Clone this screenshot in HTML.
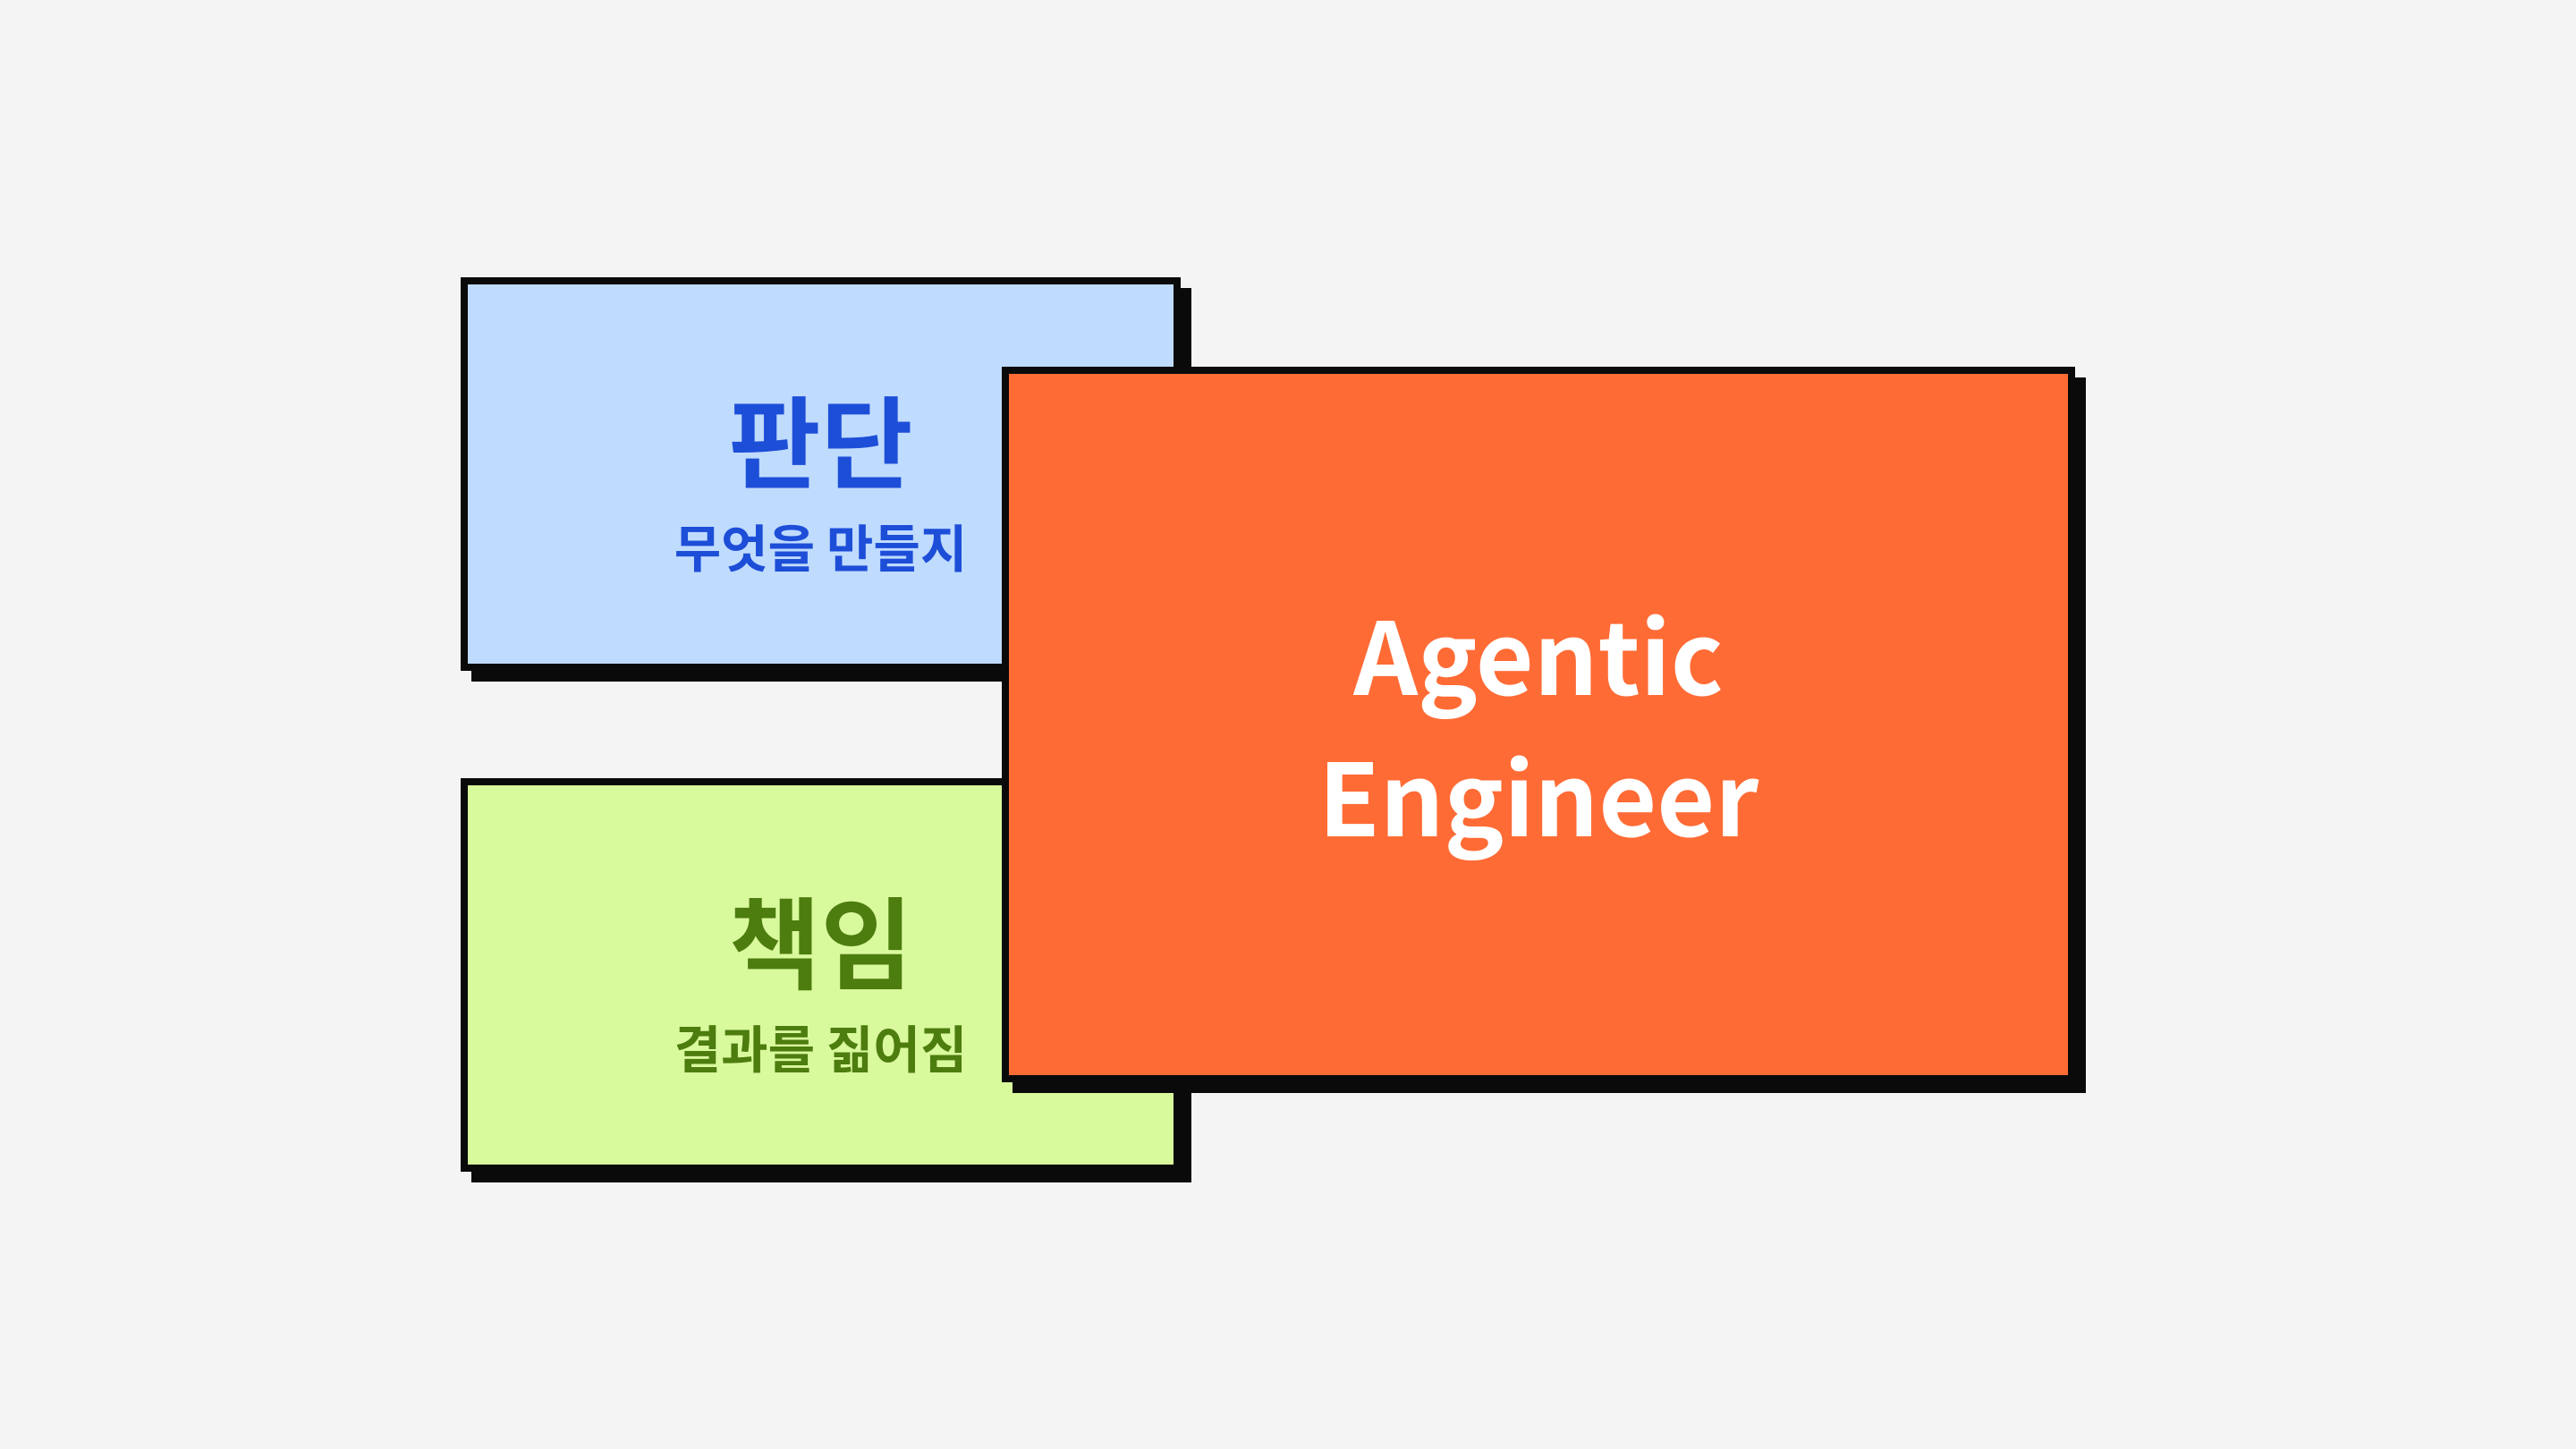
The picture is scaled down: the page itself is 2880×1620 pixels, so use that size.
<!DOCTYPE html>
<html><head><meta charset="utf-8"><style>
html,body{margin:0;padding:0;}
body{width:2880px;height:1620px;background:#f4f4f4;position:relative;overflow:hidden;font-family:"Noto Sans CJK KR","Liberation Sans",sans-serif;}
.b{position:absolute;box-sizing:border-box;border:8px solid #0a0a0a;box-shadow:12px 12px 0 #0a0a0a;}
.t{position:absolute;left:0;width:789px;text-align:center;font-weight:700;white-space:nowrap;}
</style></head><body>
<div class="b" style="left:515px;top:310px;width:805px;height:440px;background:#bfdbfe;">
  <div class="t" style="top:101px;font-size:112px;line-height:140px;color:#1d4ed8;">판단</div>
  <div class="t" style="top:256px;font-size:57px;line-height:72px;color:#1d4ed8;">무엇을 만들지</div>
</div>
<div class="b" style="left:515px;top:870px;width:805px;height:440px;background:#d9f99d;">
  <div class="t" style="top:101px;font-size:112px;line-height:140px;color:#4d7c0f;">책임</div>
  <div class="t" style="top:256px;font-size:57px;line-height:72px;color:#4d7c0f;">결과를 짊어짐</div>
</div>
<div class="b" style="left:1120px;top:410px;width:1200px;height:800px;background:#ff6b35;">
  <div style="position:absolute;left:0;right:0;top:232px;text-align:center;color:#fff;font-weight:700;font-size:112px;line-height:158px;">Agentic<br>Engineer</div>
</div>
</body></html>
